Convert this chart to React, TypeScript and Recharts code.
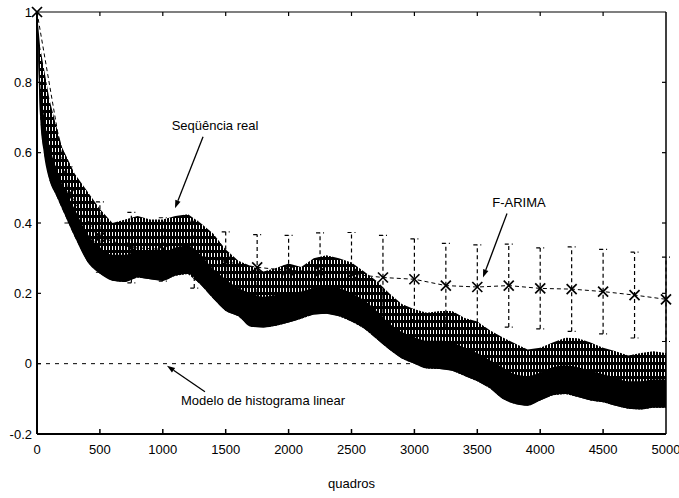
import React from 'react';
import {
  ComposedChart,
  Area,
  Line,
  XAxis,
  YAxis,
  ReferenceLine,
  ReferenceDot,
  ErrorBar,
  Label,
} from 'recharts';

// ---- Sequência real (envelope of the dense autocorrelation band) ----
const bandFrames = [
  0, 25, 50, 100, 150, 200, 300, 400, 500, 600, 700, 800, 900, 1000, 1100, 1200, 1300, 1400,
  1500, 1600, 1700, 1800, 1900, 2000, 2100, 2200, 2300, 2400, 2500, 2600, 2700, 2800, 2900,
  3000, 3100, 3200, 3300, 3400, 3500, 3600, 3700, 3800, 3900, 4000, 4100, 4200, 4300, 4400,
  4500, 4600, 4700, 4800, 4900, 5000,
];
const bandUpper = [
  1.0, 0.9, 0.85, 0.75, 0.68, 0.615, 0.54, 0.49, 0.44, 0.4, 0.41, 0.42, 0.41, 0.41, 0.42, 0.425,
  0.4, 0.37, 0.325, 0.293, 0.278, 0.262, 0.272, 0.285, 0.275, 0.3, 0.308, 0.3, 0.288, 0.262,
  0.235, 0.2, 0.17, 0.155, 0.145, 0.15, 0.15, 0.13, 0.12, 0.095, 0.075, 0.057, 0.04, 0.045,
  0.06, 0.074, 0.072, 0.06, 0.045, 0.035, 0.023, 0.03, 0.035, 0.03,
];
const bandCore = [
  1.0, 0.8, 0.72, 0.62, 0.56, 0.51, 0.44, 0.37, 0.33, 0.31, 0.31, 0.32, 0.315, 0.315, 0.33, 0.335,
  0.31, 0.27, 0.24, 0.215, 0.2, 0.19, 0.195, 0.2, 0.205, 0.215, 0.22, 0.215, 0.2, 0.18, 0.15,
  0.115, 0.09, 0.075, 0.065, 0.065, 0.06, 0.045, 0.03, 0.01, -0.01, -0.03, -0.035, -0.025,
  -0.01, -0.005, -0.01, -0.02, -0.03, -0.04, -0.05, -0.05, -0.045, -0.045,
];
const bandLower = [
  1.0, 0.7, 0.61, 0.52, 0.48, 0.44, 0.36, 0.29, 0.256, 0.236, 0.232, 0.245, 0.24, 0.236, 0.25,
  0.255, 0.225, 0.185, 0.15, 0.135, 0.105, 0.103, 0.108, 0.117, 0.128, 0.14, 0.142, 0.135, 0.12,
  0.1, 0.07, 0.04, 0.015, 0.0, -0.014, -0.015, -0.02, -0.035, -0.05, -0.07, -0.1, -0.115, -0.12,
  -0.105, -0.09, -0.086, -0.095, -0.105, -0.11, -0.12, -0.128, -0.13, -0.125, -0.125,
];

// ---- F-ARIMA model ----
const farimaFrames = [
  0, 250, 500, 750, 1000, 1250, 1500, 1750, 2000, 2250, 2500, 2750, 3000, 3250, 3500, 3750,
  4000, 4250, 4500, 4750, 5000,
];
const farimaValues = [
  1.0, 0.48, 0.36, 0.33, 0.325, 0.31, 0.29, 0.274, 0.265, 0.262, 0.255, 0.245, 0.24, 0.222,
  0.218, 0.222, 0.214, 0.212, 0.205, 0.195, 0.183,
];
const farimaErrors = [
  0, 0.08, 0.1, 0.1, 0.09, 0.095, 0.085, 0.093, 0.1, 0.11, 0.118, 0.12, 0.115, 0.12, 0.12,
  0.118, 0.115, 0.12, 0.12, 0.122, 0.12,
];

// ---- Modelo de histograma linear ----
const modelFrames = [0, 5000];
const modelValues = [0, 0];

const xTicks = [0, 500, 1000, 1500, 2000, 2500, 3000, 3500, 4000, 4500, 5000];
const yTicks = [-0.2, 0, 0.2, 0.4, 0.6, 0.8, 1];

const bandData = bandFrames.map((f, i) => ({
  f,
  lo: bandLower[i],
  core: bandCore[i],
  hi: bandUpper[i],
}));
const farimaData = farimaFrames.map((f, i) => ({ f, v: farimaValues[i], e: farimaErrors[i] }));
const modelData = modelFrames.map((f, i) => ({ f, m: modelValues[i] }));

// annotations (data coordinates)
const annotations = [
  { text: 'Seqüência real', tx: 1415, ty: 0.678, from: [1320, 0.645], to: [1097, 0.442] },
  { text: 'F-ARIMA', tx: 3831, ty: 0.459, from: [3736, 0.427], to: [3545, 0.245] },
  { text: 'Modelo de histograma linear', tx: 1797, ty: -0.105, from: [1335, -0.08], to: [1033, -0.006] },
];

const FONT = '"Liberation Sans", Arial, Helvetica, sans-serif';
const FS = 13;

const XMark = (props: any) => {
  const { cx, cy, index } = props;
  if (cx == null || cy == null) return <g key={`m${index}`} />;
  const s = 5;
  return (
    <g key={`m${index}`}>
      <line x1={cx - s} y1={cy - s} x2={cx + s} y2={cy + s} stroke="#000" strokeWidth={1.7} strokeDasharray="none" />
      <line x1={cx - s} y1={cy + s} x2={cx + s} y2={cy - s} stroke="#000" strokeWidth={1.7} strokeDasharray="none" />
    </g>
  );
};

const arrowShape = (p: any) => {
  const { x1, y1, x2, y2 } = p;
  const dx = x2 - x1;
  const dy = y2 - y1;
  const len = Math.sqrt(dx * dx + dy * dy) || 1;
  const ux = dx / len;
  const uy = dy / len;
  const hl = 8;
  const hw = 2.8;
  const bx = x2 - ux * hl;
  const by = y2 - uy * hl;
  return (
    <g>
      <line x1={x1} y1={y1} x2={bx} y2={by} stroke="#000" strokeWidth={1.3} />
      <polygon
        points={`${x2},${y2} ${bx - uy * hw},${by + ux * hw} ${bx + uy * hw},${by - ux * hw}`}
        fill="#000"
      />
    </g>
  );
};

const vTickShape = (p: any) => {
  const { x1, y1, y2 } = p;
  const top = Math.min(y1, y2);
  const bot = Math.max(y1, y2);
  return (
    <g>
      <line x1={x1} x2={x1} y1={top} y2={top + 4} stroke="#000" strokeWidth={1.2} />
      <line x1={x1} x2={x1} y1={bot} y2={bot - 5} stroke="#000" strokeWidth={1.5} />
    </g>
  );
};

const hTickShape = (p: any) => {
  const { x1, x2, y1 } = p;
  const left = Math.min(x1, x2);
  const right = Math.max(x1, x2);
  return (
    <g>
      <line x1={left} x2={left + 4} y1={y1} y2={y1} stroke="#000" strokeWidth={1.2} />
      <line x1={right} x2={right - 4} y1={y1} y2={y1} stroke="#000" strokeWidth={1.2} />
    </g>
  );
};

const frameLineShape = (w: number) => (p: any) => (
  <line x1={p.x1} y1={p.y1} x2={p.x2} y2={p.y2} stroke="#000" strokeWidth={w} />
);

export default function App() {
  return (
    <div style={{ position: 'absolute', left: 0, top: 0, width: 679, height: 498, background: '#fff' }}>
      <ComposedChart
        width={679}
        height={498}
        margin={{ top: 12, right: 13, bottom: 0, left: 0 }}
        style={{ fontFamily: FONT }}
      >
        <defs>
          <pattern id="hatch" width="3" height="7" patternUnits="userSpaceOnUse">
            <rect x="0" y="0" width="3" height="7" fill="#000" shapeRendering="crispEdges" />
            <rect x="1" y="1" width="1" height="4" fill="#fff" shapeRendering="crispEdges" />
          </pattern>
        </defs>
        <XAxis
          dataKey="f"
          type="number"
          domain={[0, 5000]}
          ticks={xTicks}
          height={64}
          tickLine={false}
          tickSize={8}
          tickMargin={3}
          axisLine={{ stroke: '#000', strokeWidth: 2 }}
          tick={{ fill: '#000', fontSize: FS, fontFamily: FONT }}
        >
          <Label value="quadros" position="insideBottom" offset={10} fill="#000" fontSize={FS} fontFamily={FONT} />
        </XAxis>
        <YAxis
          type="number"
          domain={[-0.2, 1]}
          ticks={yTicks}
          width={37}
          tickLine={false}
          tickSize={3}
          tickMargin={2}
          axisLine={{ stroke: '#000', strokeWidth: 2 }}
          tick={{ fill: '#000', fontSize: FS, fontFamily: FONT }}
        />

        <Line
          data={modelData}
          dataKey="m"
          stroke="#000"
          strokeWidth={1}
          strokeDasharray="4 5"
          dot={false}
          activeDot={false}
          isAnimationActive={false}
        />
        <Line
          data={farimaData}
          dataKey="v"
          stroke="#000"
          strokeWidth={1}
          strokeDasharray="4 3"
          dot={XMark}
          activeDot={false}
          isAnimationActive={false}
        >
          <ErrorBar dataKey="e" width={4} stroke="#000" strokeWidth={1.2} strokeDasharray="4 3" />
        </Line>
        <Area
          data={bandData}
          dataKey={(d: any) => [d.lo, d.hi]}
          stroke="none"
          fill="url(#hatch)"
          fillOpacity={1}
          type="linear"
          activeDot={false}
          isAnimationActive={false}
        />
        <Area
          data={bandData}
          dataKey={(d: any) => [d.lo, d.core]}
          stroke="none"
          fill="#000"
          fillOpacity={1}
          type="monotone"
          activeDot={false}
          isAnimationActive={false}
        />

        {/* frame: top and right */}
        <ReferenceLine y={1} shape={frameLineShape(1.2)} />
        <ReferenceLine x={5000} shape={frameLineShape(1.5)} />

        {/* inward ticks */}
        {xTicks
          .filter((t) => t !== 0 && t !== 5000)
          .map((t) => (
            <ReferenceLine key={`xt${t}`} x={t} shape={vTickShape} />
          ))}
        {yTicks
          .filter((t) => t !== -0.2 && t !== 1)
          .map((t) => (
            <ReferenceLine key={`yt${t}`} y={t} shape={hTickShape} />
          ))}

        {annotations.map((a, i) => (
          <ReferenceLine
            key={`ar${i}`}
            segment={[
              { x: a.from[0], y: a.from[1] },
              { x: a.to[0], y: a.to[1] },
            ]}
            shape={arrowShape}
          />
        ))}
        {annotations.map((a, i) => (
          <ReferenceDot
            key={`at${i}`}
            x={a.tx}
            y={a.ty}
            r={0}
            shape={(p: any) => (
              <text
                x={p.cx}
                y={p.cy}
                textAnchor="middle"
                dominantBaseline="central"
                fontSize={FS}
                fontFamily={FONT}
                fill="#000"
              >
                {a.text}
              </text>
            )}
          />
        ))}
      </ComposedChart>
    </div>
  );
}
